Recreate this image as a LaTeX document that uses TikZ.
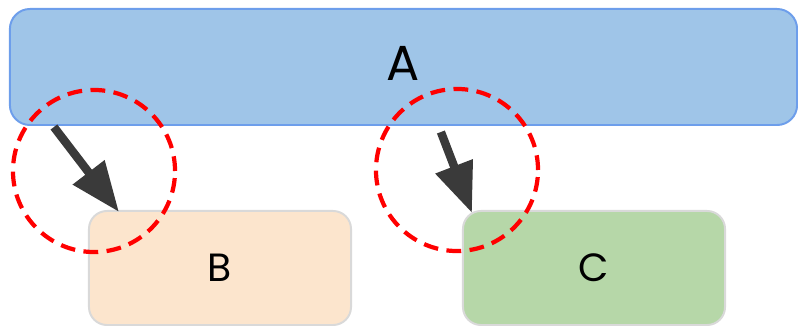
\documentclass[tikz,border=0pt]{standalone}
\usepackage{fontspec}
\setmainfont{Poppins}
\usetikzlibrary{arrows.meta,calc}
\definecolor{blockblue}{HTML}{9FC5E8}
\definecolor{blockedge}{HTML}{6D9EEB}
\definecolor{peach}{HTML}{FCE5CD}
\definecolor{sage}{HTML}{B6D7A8}
\definecolor{greyedge}{HTML}{D9D9D9}
\definecolor{ink}{HTML}{3A3A3A}
\tikzset{
  block/.style={rounded corners=0.5cm,line width=1.4pt,inner sep=0pt},
  spot/.style={circle,draw=red,dash pattern=on 10.5pt off 6pt,line width=3pt,inner sep=0pt,minimum size=4.05cm},
  pointer/.style={draw=ink,line width=6pt,-{Triangle[length=1.25cm,width=0.95cm]}}
}

\begin{document}
\begin{tikzpicture}[x=0.025cm,y=-0.025cm]
      \useasboundingbox (0,0) rectangle (798,327);
      \node[block,fill=blockblue,draw=blockedge,minimum width=19.675cm,minimum height=2.9cm,font=\fontsize{35}{40}\selectfont,text depth=0pt,text height=0.7cm] (A) at (403.5,67) {A};
      \node[block,fill=peach,draw=greyedge,rounded corners=0.45cm,minimum width=6.55cm,minimum height=2.85cm,font=\fontsize{28}{32}\selectfont] (B) at (220,268) {B};
      \node[block,fill=sage,draw=greyedge,rounded corners=0.45cm,minimum width=6.55cm,minimum height=2.85cm,font=\fontsize{28}{32}\selectfont] (C) at (594,268) {C};
      % arrow ends
      \coordinate (a1) at ($(A.south west)+(45,1)$);
      \coordinate (a2) at ($(A.south west)+(432,6)$);
      \coordinate (b1) at ($(B.north west)+(31,2)$);
      \coordinate (c1) at ($(C.north west)+(10,3)$);
      \draw[pointer] (a1) -- (b1);
      \draw[pointer] (a2) -- (c1);
      % marked spots
      \node[spot] (s1) at (94,171) {};
      \node[spot] (s2) at (457,170) {};
    \end{tikzpicture}
\end{document}
